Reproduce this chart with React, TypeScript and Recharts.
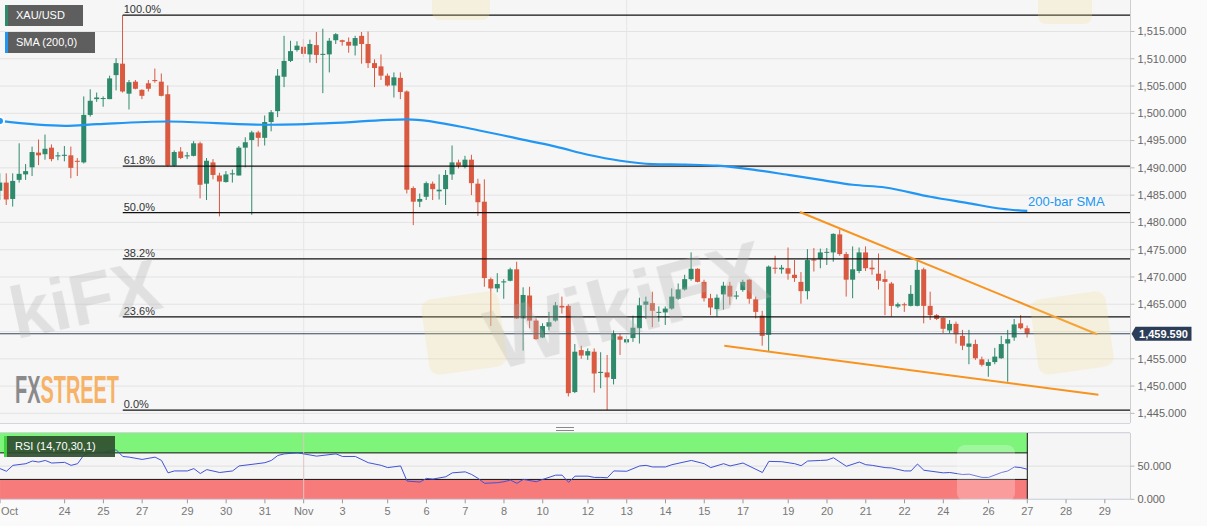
import { ComposedChart, Bar, Line, XAxis, YAxis, CartesianGrid, ReferenceLine, ReferenceArea } from 'recharts';

const FONT = '"Liberation Sans", Arial, Helvetica, sans-serif';
const UP = '#2e8a6b';
const DOWN = '#d95a40';
const SMA_BLUE = '#2196f3';
const TREND = '#f7931e';

const X_MAX = 174.97; // right edge of plot in bar units
const SLOTS = 175;

// XAU/USD 4H bars, index 0 = first visible bar
const opens = [
  1485.8, 1487.3, 1484.3, 1487.8, 1488.8, 1490.1, 1492.8, 1492.5, 1493.7, 1492.1,
  1492.2, 1492.3, 1491.3, 1491.0, 1499.7, 1502.6, 1502.7, 1502.6, 1507.0, 1509.1,
  1503.6, 1505.8, 1504.3, 1505.5, 1506.1, 1505.8, 1503.5, 1490.4, 1493.0, 1492.1,
  1492.2, 1494.5, 1487.1, 1491.0, 1488.6, 1487.4, 1488.8, 1488.6, 1493.7, 1495.1,
  1496.5, 1495.5, 1498.4, 1500.4, 1506.7, 1509.6, 1511.6, 1512.2, 1510.8, 1512.5,
  1510.7, 1510.8, 1513.4, 1513.4, 1513.1, 1512.4, 1514.2, 1512.7, 1509.2, 1508.6,
  1506.9, 1505.1, 1506.5, 1504.0, 1486.3, 1483.8, 1484.7, 1487.1, 1485.7, 1486.1,
  1488.8, 1491.0, 1490.2, 1491.5, 1487.1, 1483.8, 1469.6, 1467.9, 1469.0, 1469.3,
  1471.4, 1462.4, 1466.6, 1462.0, 1458.9, 1460.9, 1462.0, 1464.7, 1464.7, 1448.9,
  1456.6, 1455.6, 1456.3, 1452.4, 1452.5, 1451.3, 1459.1, 1458.0, 1458.8, 1460.6,
  1464.9, 1465.2, 1463.5, 1463.5, 1464.2, 1466.0, 1467.7, 1469.6, 1471.5, 1469.1,
  1466.1, 1464.1, 1466.8, 1468.4, 1466.4, 1467.6, 1469.5, 1465.9, 1462.9, 1459.4,
  1471.7, 1471.4, 1471.6, 1470.4, 1469.1, 1467.4, 1473.2, 1473.3, 1474.5, 1474.5,
  1477.8, 1474.2, 1469.5, 1471.1, 1474.5, 1471.7, 1470.6, 1469.6, 1468.8, 1464.6,
  1465.0, 1464.7, 1464.7, 1471.4, 1464.7, 1463.0, 1462.5, 1460.2, 1461.4, 1459.2,
  1457.2, 1457.7, 1454.9, 1453.7, 1454.4, 1455.1, 1457.8, 1458.9, 1461.5, 1460.6,
];
const highs = [
  1489.0, 1489.0, 1489.0, 1494.5, 1490.7, 1493.9, 1495.2, 1496.1, 1494.3, 1492.9,
  1494.0, 1493.9, 1491.8, 1503.1, 1504.4, 1503.8, 1503.1, 1506.9, 1510.1, 1518.0,
  1506.1, 1506.1, 1504.4, 1506.1, 1508.2, 1507.3, 1505.1, 1493.2, 1493.8, 1492.9,
  1494.9, 1494.8, 1491.8, 1491.6, 1489.1, 1489.4, 1489.7, 1494.0, 1495.6, 1496.8,
  1496.8, 1499.6, 1500.6, 1508.1, 1514.2, 1513.3, 1513.2, 1513.6, 1513.5, 1514.9,
  1515.5, 1513.8, 1514.7, 1513.5, 1513.9, 1514.2, 1514.9, 1515.0, 1509.9, 1510.8,
  1507.3, 1507.5, 1507.5, 1504.2, 1486.6, 1485.3, 1487.5, 1487.5, 1488.8, 1489.6,
  1494.1, 1491.5, 1492.2, 1492.4, 1488.0, 1487.9, 1469.9, 1470.7, 1469.6, 1471.7,
  1472.8, 1468.1, 1468.2, 1462.4, 1461.5, 1463.6, 1465.4, 1466.4, 1465.0, 1457.7,
  1457.4, 1456.9, 1456.9, 1456.2, 1455.7, 1460.2, 1459.6, 1459.2, 1462.9, 1466.2,
  1466.4, 1467.3, 1464.6, 1464.6, 1467.9, 1468.8, 1470.4, 1474.5, 1471.6, 1469.5,
  1466.9, 1466.8, 1469.1, 1469.1, 1467.4, 1469.5, 1469.6, 1466.4, 1463.8, 1472.1,
  1473.9, 1472.2, 1475.4, 1473.1, 1470.9, 1475.1, 1475.3, 1475.2, 1475.3, 1478.0,
  1478.7, 1474.6, 1475.6, 1475.4, 1475.6, 1473.1, 1474.3, 1471.2, 1469.1, 1465.3,
  1465.3, 1468.5, 1472.9, 1471.7, 1467.3, 1463.2, 1462.6, 1462.1, 1461.8, 1460.3,
  1460.3, 1458.5, 1455.4, 1454.9, 1457.0, 1459.2, 1460.3, 1462.3, 1463.0, 1461.1,
];
const lows = [
  1484.1, 1483.2, 1482.9, 1487.3, 1487.8, 1488.5, 1490.5, 1491.5, 1491.2, 1491.4,
  1491.2, 1488.1, 1488.5, 1490.8, 1499.4, 1502.1, 1501.2, 1502.6, 1504.2, 1503.8,
  1500.7, 1504.4, 1502.6, 1504.0, 1505.6, 1503.1, 1490.2, 1490.2, 1491.6, 1491.6,
  1492.1, 1484.4, 1484.1, 1487.9, 1481.1, 1487.3, 1487.3, 1488.6, 1490.1, 1481.4,
  1493.9, 1494.1, 1496.7, 1499.3, 1504.8, 1509.4, 1511.3, 1510.3, 1509.3, 1509.2,
  1503.7, 1507.5, 1512.7, 1512.4, 1511.1, 1510.6, 1509.1, 1508.3, 1504.8, 1506.1,
  1504.9, 1502.9, 1502.6, 1485.3, 1479.5, 1482.8, 1484.1, 1484.1, 1484.2, 1483.2,
  1487.8, 1489.9, 1489.9, 1485.0, 1481.2, 1468.2, 1461.0, 1467.2, 1466.0, 1469.2,
  1462.3, 1456.5, 1460.6, 1458.5, 1458.8, 1460.2, 1461.8, 1463.3, 1448.1, 1448.7,
  1455.0, 1454.8, 1448.8, 1449.6, 1445.6, 1450.3, 1455.7, 1457.7, 1458.1, 1457.8,
  1462.3, 1460.8, 1461.8, 1461.2, 1464.0, 1465.8, 1467.5, 1469.3, 1469.0, 1465.5,
  1463.0, 1462.7, 1464.0, 1464.9, 1465.9, 1467.3, 1465.1, 1462.4, 1457.4, 1456.3,
  1470.6, 1470.6, 1469.5, 1469.1, 1465.1, 1465.9, 1471.0, 1471.6, 1472.2, 1472.8,
  1473.9, 1466.4, 1466.1, 1470.7, 1471.1, 1470.4, 1467.7, 1463.0, 1462.7, 1464.3,
  1463.6, 1464.6, 1464.6, 1461.5, 1462.1, 1462.1, 1459.7, 1459.7, 1457.8, 1456.6,
  1454.0, 1454.8, 1453.6, 1451.7, 1454.0, 1455.0, 1450.8, 1458.3, 1460.4, 1458.9,
];
const closes = [
  1487.3, 1484.2, 1487.6, 1488.9, 1489.4, 1492.9, 1492.3, 1493.5, 1491.6, 1492.3,
  1492.4, 1490.0, 1491.1, 1499.7, 1502.3, 1502.9, 1502.8, 1506.4, 1509.2, 1504.0,
  1505.7, 1504.5, 1503.2, 1504.5, 1505.9, 1503.2, 1490.4, 1492.9, 1491.8, 1492.3,
  1494.5, 1486.9, 1491.3, 1488.7, 1487.5, 1488.8, 1489.0, 1493.7, 1494.7, 1496.5,
  1495.5, 1498.4, 1500.2, 1506.9, 1509.6, 1511.4, 1512.4, 1510.9, 1512.7, 1510.7,
  1510.9, 1513.3, 1514.5, 1513.1, 1512.4, 1513.8, 1512.7, 1509.2, 1508.3, 1506.9,
  1505.1, 1506.6, 1503.9, 1486.0, 1483.8, 1484.3, 1487.2, 1486.1, 1486.0, 1488.7,
  1491.0, 1490.4, 1491.5, 1487.2, 1483.7, 1469.8, 1467.9, 1468.7, 1469.2, 1471.4,
  1462.4, 1466.7, 1462.0, 1458.6, 1461.0, 1461.7, 1464.8, 1464.4, 1448.7, 1456.3,
  1455.6, 1456.4, 1452.3, 1452.6, 1451.6, 1459.6, 1458.5, 1458.6, 1460.7, 1464.8,
  1465.5, 1463.8, 1463.6, 1464.2, 1466.4, 1467.7, 1469.6, 1471.5, 1469.1, 1466.1,
  1464.4, 1466.2, 1468.4, 1466.4, 1466.6, 1469.1, 1466.0, 1463.6, 1459.2, 1471.9,
  1471.5, 1471.7, 1470.6, 1469.8, 1467.4, 1473.1, 1473.0, 1474.5, 1474.6, 1477.9,
  1474.2, 1469.5, 1471.4, 1474.5, 1471.6, 1471.4, 1469.3, 1469.1, 1464.7, 1465.0,
  1464.8, 1466.9, 1471.3, 1464.7, 1463.0, 1462.3, 1460.5, 1461.4, 1459.5, 1457.4,
  1457.8, 1455.1, 1453.9, 1454.4, 1455.4, 1457.7, 1458.6, 1461.3, 1460.6, 1459.59,
];

// 200-bar SMA, read at sampled bars
const smaIdx = [0, 10, 15, 26, 41, 51, 63, 74, 82, 86, 91, 96, 101, 106, 111, 117, 122, 127, 132, 137, 144, 150, 155, 159];
const smaVal = [1498.6, 1497.7, 1498.0, 1498.5, 1497.9, 1498.2, 1498.9, 1496.9, 1494.9, 1493.9, 1492.4, 1491.3, 1490.7, 1490.6, 1490.4, 1489.6, 1488.7, 1487.8, 1486.9, 1486.4, 1484.7, 1483.5, 1482.5, 1482.1];

// RSI(14), read at sampled bars
const rsiIdx = [
  0, 1, 2, 4, 5, 6, 7, 8, 10, 11, 12, 13, 14, 16, 18, 19, 20, 22, 24, 25,
  26, 27, 29, 30, 31, 32, 34, 36, 37, 39, 41, 42, 43, 44, 46, 47, 49, 52, 53, 55,
  57, 59, 60, 62, 63, 65, 66, 67, 69, 70, 72, 73, 74, 75, 77, 78, 79, 80, 81, 83,
  84, 86, 87, 88, 89, 91, 92, 93, 94, 95, 97, 99, 100, 101, 103, 104, 107, 109, 110, 112,
  113, 115, 118, 119, 121, 123, 124, 125, 127, 128, 129, 131, 133, 134, 135, 137, 138, 140, 141, 142,
  143, 146, 147, 149, 150, 152, 153, 155, 156, 157, 158, 159,
];
const rsiVal = [
  46.3, 42.3, 51.2, 53.7, 57.7, 56.2, 58.6, 54.7, 55.7, 51.2, 53.7, 67.0, 69.5, 71.0, 74.5, 64.6, 63.6, 60.1, 63.6, 58.6,
  39.9, 42.8, 42.8, 46.3, 38.9, 44.8, 40.4, 42.8, 50.3, 52.7, 55.2, 58.6, 66.1, 68.5, 70.0, 68.5, 65.1, 68.5, 64.6, 64.6,
  55.2, 51.2, 47.8, 50.3, 27.5, 26.0, 31.5, 30.5, 34.0, 39.9, 41.4, 37.4, 31.5, 24.1, 25.1, 26.5, 29.0, 24.1, 30.0, 26.5,
  30.0, 36.4, 36.4, 25.6, 34.9, 34.9, 33.0, 33.0, 32.5, 42.8, 42.3, 50.3, 51.2, 48.8, 48.8, 52.2, 58.6, 53.7, 47.8, 53.7,
  50.3, 54.7, 40.4, 57.2, 56.7, 53.7, 50.7, 57.7, 58.6, 59.1, 62.6, 49.8, 56.2, 52.2, 51.2, 47.8, 47.3, 42.8, 42.8, 53.2,
  43.8, 39.9, 40.4, 37.4, 37.9, 33.0, 33.0, 40.4, 42.8, 48.8, 47.8, 45.3,
];

const fibLevels = [1518.0, 1490.3, 1481.8, 1473.3, 1462.7, 1445.6];
const fibLabels = ['100.0%', '61.8%', '50.0%', '38.2%', '23.6%', '0.0%'];
const FIB_START = 19;

// falling wedge: [x1, y1, x2, y2] in bar / price units
const wedgeTop = [123.8, 1481.9, 169.8, 1459.5];
const wedgeBottom = [112.1, 1457.4, 170.0, 1448.4];

const gridLevels = [1445, 1450, 1455, 1460, 1465, 1470, 1475, 1480, 1485, 1490, 1495, 1500, 1505, 1510, 1515];
// 1,460 label is covered by the last-price tag
const priceTicks = [1445, 1450, 1455, 1465, 1470, 1475, 1480, 1485, 1490, 1495, 1500, 1505, 1510, 1515];
const dayTickIdx = [0, 10, 16, 22, 29, 35, 41, 47, 53, 60, 66, 72, 78, 84, 91, 97, 103, 109, 115, 122, 128, 134, 140, 146, 153, 159, 165, 171];
const dayTickLabels = ['Oct', '24', '25', '27', '29', '30', '31', 'Nov', '3', '5', '6', '7', '8', '10', '12', '13', '14', '15', '17', '19', '20', '21', '22', '24', '26', '27', '28', '29'];

const LAST = closes[closes.length - 1];

const mainRows = Array.from({ length: SLOTS }, (_, i) => {
  const k = smaIdx.indexOf(i);
  return {
    i,
    range: i < opens.length ? [lows[i], highs[i]] : undefined,
    o: opens[i],
    c: closes[i],
    sma: k >= 0 ? smaVal[k] : undefined,
  };
});

const rsiRows = Array.from({ length: SLOTS }, (_, i) => {
  const k = rsiIdx.indexOf(i);
  return { i, rsi: k >= 0 ? rsiVal[k] : undefined };
});

const fmtPrice = (v: number) => v.toLocaleString('en-US', { minimumFractionDigits: 3, maximumFractionDigits: 3 });

function Candle(props: any) {
  const { x, y, width, height, payload } = props;
  if (!payload || !payload.range) return null;
  const [low, high] = payload.range;
  const k = high === low ? 0 : height / (high - low);
  const top = y + (high - Math.max(payload.o, payload.c)) * k;
  const bot = y + (high - Math.min(payload.o, payload.c)) * k;
  const cx = x + width / 2;
  const color = payload.c >= payload.o ? UP : DOWN;
  return (
    <g>
      <line x1={cx} x2={cx} y1={y} y2={y + height} stroke={color} strokeWidth={1} />
      <rect x={cx - 2.5} y={top} width={5} height={Math.max(bot - top, 1)} fill={color} />
    </g>
  );
}

function FibTag(props: any) {
  const vb = props.viewBox;
  if (!vb) return null;
  return (
    <text x={vb.x + 1} y={vb.y - 2} fontSize={11} fill="#333" fontFamily={FONT}>
      {props.text}
    </text>
  );
}

function PriceTag(props: any) {
  const vb = props.viewBox;
  if (!vb) return null;
  const x = vb.x + vb.width;
  const y = vb.y;
  return (
    <g>
      <path d={`M${x + 1},${y} L${x + 5},${y - 7} L${x + 61},${y - 7} L${x + 61},${y + 7} L${x + 5},${y + 7} Z`} fill="#2c3e57" />
      <text x={x + 33} y={y + 4} textAnchor="middle" fontSize={11} fontWeight="bold" fill="#fff" fontFamily={FONT}>
        {fmtPrice(LAST)}
      </text>
    </g>
  );
}

function DayTick(props: any) {
  const { x, y, payload } = props;
  const k = dayTickIdx.indexOf(payload.value);
  if (k < 0) return null;
  const first = k === 0;
  return (
    <text x={first ? x + 1 : x} y={y} dy="0.71em" textAnchor={first ? 'start' : 'middle'} fontSize={11} fill="#777" fontFamily={FONT}>
      {dayTickLabels[k]}
    </text>
  );
}

const badge = (left: number, top: number, width: number, bg: string, edge: string) => ({
  position: 'absolute' as const,
  left,
  top,
  width,
  height: 21,
  lineHeight: '21px',
  background: bg,
  borderLeft: `3px solid ${edge}`,
  color: '#fff',
  fontSize: 11,
  paddingLeft: 8,
  boxSizing: 'border-box' as const,
  fontFamily: FONT,
});

export default function App() {
  return (
    <div style={{ position: 'relative', width: 1207, height: 526, background: '#fafafa', overflow: 'hidden', fontFamily: FONT }}>
      <style>{'body{margin:0;overflow:hidden}'}</style>

      <div style={{ position: 'absolute', left: 0, top: 0 }}>
        <ComposedChart width={1207} height={423} data={mainRows} margin={{ top: 0, right: 0, bottom: 0, left: 0 }}>
          <CartesianGrid vertical={false} stroke="#e3e3e3" fill="#f6f6f7" horizontalValues={gridLevels} />
          <XAxis dataKey="i" type="number" domain={[0, X_MAX]} hide allowDataOverflow />
          <YAxis
            orientation="right"
            width={76.5}
            domain={[1443.23, 1520.77]}
            ticks={priceTicks}
            allowDataOverflow
            tickFormatter={fmtPrice}
            tick={{ fontSize: 11, fill: '#666', fontFamily: FONT }}
            tickSize={4}
            tickMargin={3}
            axisLine={{ stroke: '#cfcfcf' }}
            tickLine={{ stroke: '#bbb' }}
          />
          <ReferenceLine x={47} stroke="#e6e6e6" />
          <ReferenceLine x={97} stroke="#e6e6e6" />
          {fibLevels.map((lvl, k) => (
            <ReferenceLine
              key={fibLabels[k]}
              segment={[{ x: FIB_START, y: lvl }, { x: X_MAX, y: lvl }]}
              stroke="#111"
              strokeWidth={1.2}
              label={<FibTag text={fibLabels[k]} />}
            />
          ))}
          <ReferenceLine y={LAST} stroke="#34495e" strokeWidth={1} label={<PriceTag />} />
          <Bar dataKey="range" barSize={6} isAnimationActive={false} shape={(p: any) => <Candle {...p} />} />
          <Line dataKey="sma" type="monotone" stroke={SMA_BLUE} strokeWidth={2.2} dot={false} connectNulls isAnimationActive={false} />
          <ReferenceLine segment={[{ x: wedgeTop[0], y: wedgeTop[1] }, { x: wedgeTop[2], y: wedgeTop[3] }]} stroke={TREND} strokeWidth={2} />
          <ReferenceLine segment={[{ x: wedgeBottom[0], y: wedgeBottom[1] }, { x: wedgeBottom[2], y: wedgeBottom[3] }]} stroke={TREND} strokeWidth={2} />
        </ComposedChart>
      </div>

      <div style={{ position: 'absolute', left: 0, top: 423, width: 1130, height: 1, background: '#d3d6e0' }} />
      <div style={{ position: 'absolute', left: 556, top: 427, width: 18, height: 2, borderTop: '1px solid #888', borderBottom: '1px solid #888' }} />

      <div style={{ position: 'absolute', left: 0, top: 432.7 }}>
        <ComposedChart width={1207} height={93.3} data={rsiRows} margin={{ top: 0, right: 0, bottom: 0, left: 0 }}>
          <CartesianGrid vertical={false} stroke="#e0e0e0" fill="#f5f5f5" />
          <XAxis
            dataKey="i"
            type="number"
            domain={[0, X_MAX]}
            allowDataOverflow
            ticks={dayTickIdx}
            interval={0}
            tick={<DayTick />}
            tickSize={4}
            tickMargin={4}
            height={27}
            axisLine={{ stroke: '#cfd3df' }}
            tickLine={{ stroke: '#999' }}
          />
          <YAxis
            orientation="right"
            width={76.5}
            domain={[0, 100]}
            ticks={[0, 50]}
            tickFormatter={fmtPrice}
            tick={{ fontSize: 11, fill: '#666', fontFamily: FONT }}
            tickSize={4}
            tickMargin={3}
            axisLine={{ stroke: '#cfcfcf' }}
            tickLine={{ stroke: '#bbb' }}
          />
          <ReferenceArea x1={0} x2={159} y1={70} y2={100} fill="#7ef47b" fillOpacity={1} stroke="none" />
          <ReferenceArea x1={0} x2={159} y1={0} y2={30} fill="#f87b7b" fillOpacity={1} stroke="none" />
          <ReferenceLine segment={[{ x: 0, y: 70 }, { x: 159, y: 70 }]} stroke="#111" />
          <ReferenceLine segment={[{ x: 0, y: 30 }, { x: 159, y: 30 }]} stroke="#111" />
          <ReferenceLine segment={[{ x: 159, y: 0 }, { x: 159, y: 100 }]} stroke="#111" />
          <ReferenceLine x={47} stroke="#e2c4c4" />
          <Line dataKey="rsi" type="linear" stroke="#3f51d6" strokeWidth={1} dot={false} connectNulls isAnimationActive={false} />
        </ComposedChart>
      </div>

      <div style={{ position: 'absolute', left: 0, top: 432, width: 1130, height: 1, background: '#d3d6e0' }} />

      <div style={badge(5, 5, 78, '#5e5e5e', UP)}>XAU/USD</div>
      <div style={badge(5, 32, 90, '#5e5e5e', SMA_BLUE)}>SMA (200,0)</div>
      <div style={badge(4, 436, 111, 'rgba(48,78,48,0.92)', '#3fd43f')}>RSI (14,70,30,1)</div>

      <div style={{ position: 'absolute', left: 1028, top: 195, color: SMA_BLUE, fontSize: 13, lineHeight: '14px', fontFamily: FONT }}>200-bar SMA</div>

      <svg width={1207} height={526} style={{ position: 'absolute', left: 0, top: 0, pointerEvents: 'none' }}>
        <text x={15} y={403} fontSize={38} fontWeight="bold" fontFamily='"Liberation Sans Narrow", "Liberation Sans", sans-serif' textLength={104} lengthAdjust="spacingAndGlyphs">
          <tspan fill="#8a8a8a">FX</tspan>
          <tspan fill="#f6b266">STREET</tspan>
        </text>
        <g opacity={0.34} fontFamily={FONT} fontWeight="bold" fill="#b5b5b5">
          <text x={9} y={328} fontSize={72} transform="rotate(-12 66 300)">kiFX</text>
          <text x={625} y={335} fontSize={86} textAnchor="middle" transform="rotate(-15 625 300)">WikiFX</text>
        </g>
        <g fill="#f3dc8c" opacity={0.24}>
          <rect x={425} y={295} width={78} height={76} rx={10} transform="rotate(-8 464 333)" />
          <rect x={1034} y={295} width={76} height={76} rx={10} transform="rotate(-8 1072 333)" />
          <rect x={432} y={-14} width={58} height={34} rx={8} />
          <rect x={1038} y={-14} width={54} height={38} rx={8} />
        </g>
        <rect x={957} y={445} width={58} height={56} rx={8} fill="#fff" opacity={0.25} />
      </svg>
    </div>
  );
}
